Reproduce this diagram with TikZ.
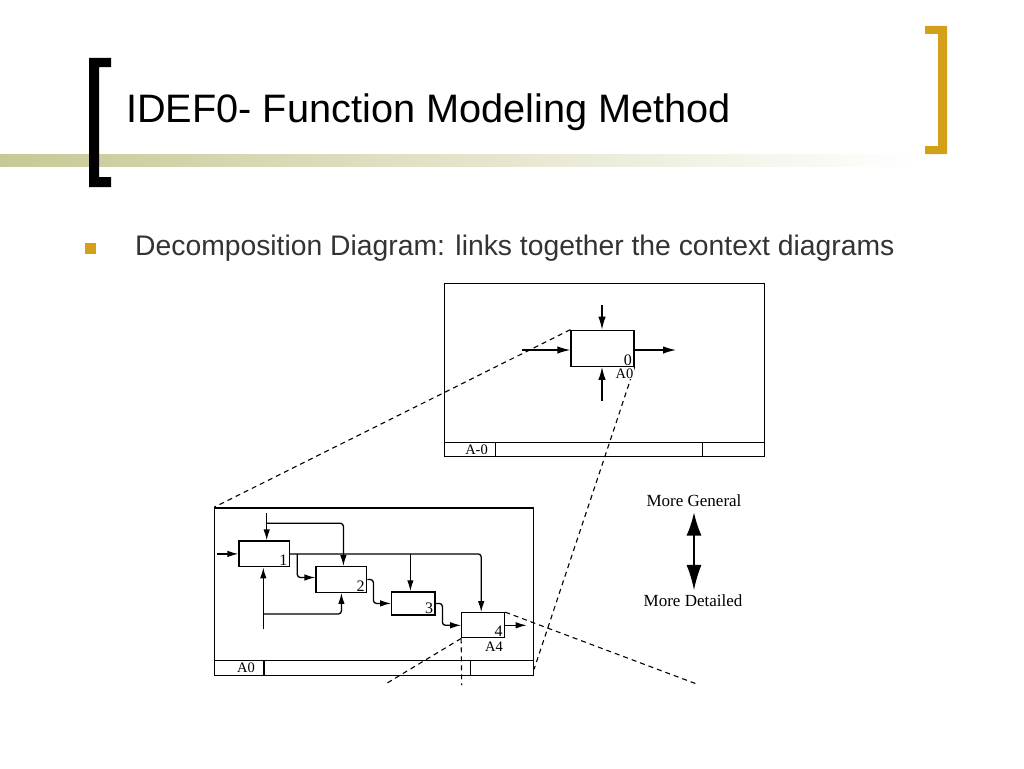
\documentclass[tikz,border=0pt]{standalone}
\usepackage{fontspec}
\setmainfont{Liberation Serif}
\newfontfamily\slidefont{Liberation Sans}
\usetikzlibrary{arrows.meta, positioning}
\definecolor{bargreen}{RGB}{200,200,150}
\definecolor{bracketgold}{RGB}{212,160,23}
\definecolor{bullettext}{RGB}{51,51,51}

\begin{document}
\begin{tikzpicture}[x=1pt, y=-1pt,
	diagframe/.style={draw, line width=1.3pt, inner sep=0pt, anchor=north west},
	activity/.style={draw, line width=1.3pt, inner sep=0pt, fill=white},
	flow/.style={line width=1.3pt, rounded corners=3pt, -{Latex[length=11pt, width=6.5pt]}},
	bigflow/.style={line width=1.3pt, -{Latex[length=13pt, width=7.5pt]}},
	link/.style={line width=1.1pt, dash pattern=on 5pt off 4pt},
	boxnum/.style={anchor=south east, inner xsep=2.5pt, inner ysep=1.5pt, font=\fontsize{16}{16}\selectfont},
	idlabel/.style={anchor=east, inner sep=1pt, font=\fontsize{14.5}{14.5}\selectfont},
	legend/.style={font=\fontsize{17}{17}\selectfont}]
	\path [use as bounding box, fill=white] (0,0) rectangle (1024,768);

	\shade [left color=bargreen, right color=white] (0,154) rectangle (920,166);
	\fill (89,58) -- (111,58) -- (111,67) -- (99,67) -- (99,177) -- (111,177) -- (111,187) -- (89,187) -- cycle;
	\fill [bracketgold] (947,26) -- (925,26) -- (925,34) -- (938,34) -- (938,146) -- (925,146) -- (925,154) -- (947,154) -- cycle;

	\node [anchor=base west, inner sep=0pt, font=\slidefont\fontsize{39.7}{48}\selectfont] (title) at (126,122) {IDEF0- Function Modeling Method};
	\fill [bracketgold] (85,243) rectangle (96,254);
	\node [anchor=base west, inner sep=0pt, text=bullettext, font=\slidefont\fontsize{28.3}{34}\selectfont] (point) at (135,255) {Decomposition Diagram: links together the context diagrams};

	% context diagram A-0
	\node [diagframe, minimum width=320pt, minimum height=173.3pt] (ctx) at (444,282.7) {};
	\draw [line width=1.3pt] (444,442.3) -- (764,442.3);
	\draw [line width=1.3pt] (495.7,442.3) -- (495.7,456);
	\draw [line width=1.3pt] (702.3,442.3) -- (702.3,456);
	\node [idlabel] (ctxid) at (489,450) {A-0};

	\node [activity, minimum width=63pt, minimum height=36pt] (a0) at (602.5,348.3) {};
	\node [boxnum] (a0num) at (a0.south east) {0};
	\coordinate (a0ctl) at (602,305);
	\coordinate (a0mech) at (602,401);
	\coordinate (a0in) at (521.7,350);
	\coordinate (a0out) at (676,350);
	\draw [bigflow] (a0ctl) -- (a0ctl |- a0.north);
	\draw [bigflow] (a0mech) -- (a0mech |- a0.south);
	\draw [bigflow] (a0in) -- (a0in -| a0.west);
	\draw [bigflow] (a0in -| a0.east) -- (a0out);

	% decomposition diagram A0
	\node [diagframe, minimum width=318.7pt, minimum height=167.7pt] (dec) at (214,507.3) {};
	\draw [line width=1.3pt] (214,660.7) -- (532.7,660.7);
	\draw [line width=1.3pt] (264,660.7) -- (264,675);
	\draw [line width=1.3pt] (470.5,660.7) -- (470.5,675);
	\node [idlabel] (decid) at (256,667.5) {A0};

	\node [activity, minimum width=50.3pt, minimum height=25.7pt] (b1) at (264.2,553.9) {};
	\node [activity, minimum width=50.7pt, minimum height=25.6pt] (b2) at (341.4,579.5) {};
	\node [activity, minimum width=43.3pt, minimum height=23pt] (b3) at (413.4,603.4) {};
	\node [activity, minimum width=42.8pt, minimum height=25pt] (b4) at (483.2,625.3) {};
	\foreach \b/\n in {b1/1, b2/2, b3/3, b4/4}
		\node [boxnum] (\b num) at (\b.south east) {\n};

	\coordinate (b1in) at (217.3,553.9);
	\coordinate (b1ctl) at (266.7,513.3);
	\coordinate (b1ctlsplit) at (266.7,523.3);
	\coordinate (b1mech) at (263.3,629.3);
	\coordinate (b1mechsplit) at (263.3,614);
	\coordinate (b1split) at (297.3,553.9);
	\coordinate (b4out) at (526.7,625.3);

	\draw [flow] (b1in) -- (b1.west);
	\draw [flow] (b1ctl) -- (b1ctl |- b1.north);
	\draw [flow] (b1ctlsplit) -| ([xshift=2pt]b2.north);
	\draw [flow] (b1mech) -- (b1mech |- b1.south);
	\draw [flow] (b1mechsplit) -| (b2.south);
	\draw [flow] (b1.east) -| ([xshift=-2pt]b4.north);
	\draw [flow] ([xshift=-3pt]b3.north |- b1.east) -- ([xshift=-3pt]b3.north);
	\draw [flow] (b1split) |- ([yshift=2pt]b2.west);
	\draw [flow] (b2.east) -- ++(6,0) |- (b3.west);
	\draw [flow] (b3.east) -- ++(6.7,0) |- (b4.west);
	\draw [flow] (b4.east) -- (b4out);

	% links between the levels
	\coordinate (leftend) at (386.7,683.3);
	\coordinate (downend) at (461.7,685);
	\coordinate (rightend) at (696.7,684);
	\draw [link] (a0.north west) -- (dec.north west);
	\draw [link] (a0.south east) -- ([yshift=7pt]dec.south east);
	\draw [link] (b4.north east) -- (rightend);
	\draw [link] (b4.south west) -- (leftend);
	\draw [link] (b4.south west) -- (downend);
	\node [idlabel, fill=white, inner sep=0.5pt] (a0id) at (634,373.5) {A0};
	\node [idlabel] (b4id) at (504,646.5) {A4};

	% legend
	\node [legend] (general) at (694,501) {More General};
	\node [legend] (detailed) at (693,601) {More Detailed};
	\draw [{Latex[length=23pt, width=15pt]}-{Latex[length=25pt, width=15pt]}, line width=1.4pt, shorten <=2pt, shorten >=1.5pt] (general.south -| 694,0) -- (detailed.north -| 694,0);
\end{tikzpicture}
\end{document}
